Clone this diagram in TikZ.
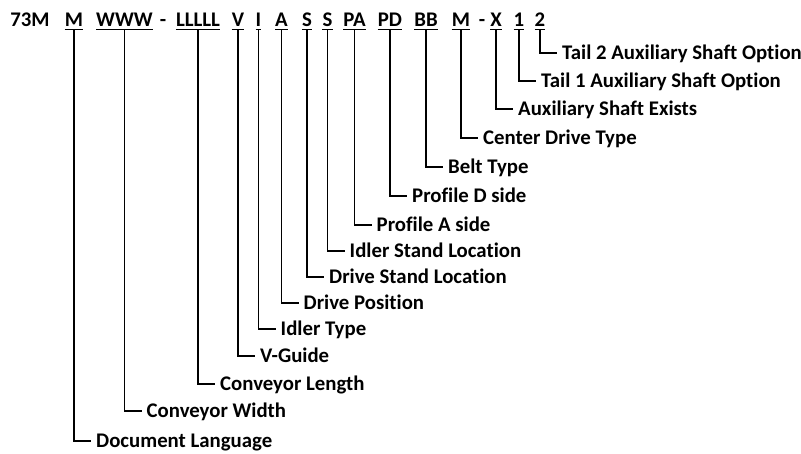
\documentclass[tikz,border=0pt]{standalone}
\usepackage{fontspec}
\setmainfont[RawFeature={-liga;-clig}]{Carlito}
\begin{document}
\begin{tikzpicture}[x=1pt,y=-1pt,
  every node/.style={font=\fontsize{20.8}{24}\selectfont\bfseries, inner sep=0pt},
  code/.style={anchor=base, text depth=3pt},
  lab/.style={anchor=west, text height=13.4pt, text depth=0pt, inner xsep=5pt},
  uline/.style={line width=1.3pt},
  conn/.style={line width=1.8pt}]
\useasboundingbox (0,0) rectangle (801,453);
% code string
\node[code] (c0)  at (30,26.5)  {73M};
\node[code] (c1)  at (74,26.5)  {M};
\node[code] (c2)  at (124.5,26.5) {WWW};
\node[code] (h1)  at (163,26.5) {-};
\node[code] (c3)  at (198,26.5) {LLLLL};
\node[code] (c4)  at (238,26.5) {V};
\node[code] (c5)  at (258.5,26.5) {I};
\node[code] (c6)  at (281.5,26.5) {A};
\node[code] (c7)  at (307,26.5) {S};
\node[code] (c8)  at (327.5,26.5) {S};
\node[code] (c9)  at (354.5,26.5) {PA};
\node[code] (c10) at (390,26.5) {PD};
\node[code] (c11) at (426,26.5) {BB};
\node[code] (c12) at (461,26.5) {M};
\node[code] (h2)  at (482,26.5) {-};
\node[code] (c13) at (496,26.5) {X};
\node[code] (c14) at (519,26.5) {1};
\node[code] (c15) at (540,26.5) {2};
% labels
\node[lab] (l1)  at (91,441)  {Document Language};
\node[lab] (l2)  at (141.5,411) {Conveyor Width};
\node[lab] (l3)  at (215,384) {Conveyor Length};
\node[lab] (l4)  at (255,356) {V-Guide};
\node[lab] (l5)  at (275.5,329) {Idler Type};
\node[lab] (l6)  at (298.5,303) {Drive Position};
\node[lab] (l7)  at (324,277) {Drive Stand Location};
\node[lab] (l8)  at (344.5,251) {Idler Stand Location};
\node[lab] (l9)  at (371.5,225) {Profile A side};
\node[lab] (l10) at (407,196) {Profile D side};
\node[lab] (l11) at (443,167) {Belt Type};
\node[lab] (l12) at (478,138) {Center Drive Type};
\node[lab] (l13) at (513,109) {Auxiliary Shaft Exists};
\node[lab] (l14) at (536,81)  {Tail 1 Auxiliary Shaft Option};
\node[lab] (l15) at (557,53)  {Tail 2 Auxiliary Shaft Option};
% underlines and connectors
\foreach \i in {1,...,15}{
  \draw[uline] (c\i.south west) -- (c\i.south east);
  \draw[conn] (c\i.south) |- (l\i.west);
}
\end{tikzpicture}
\end{document}
